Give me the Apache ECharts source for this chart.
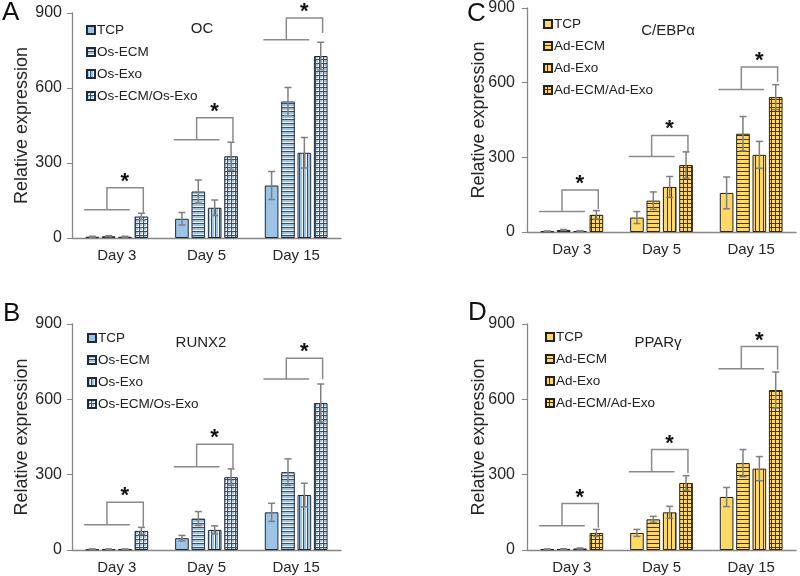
<!DOCTYPE html>
<html><head><meta charset="utf-8">
<script src="https://cdn.jsdelivr.net/npm/echarts@6/dist/echarts.min.js"></script>
<style>
body{margin:0;background:#fff;}
.p{position:absolute;width:400px;height:288px;}
</style>
</head><body>
<div id="pA" class="p" style="left:0;top:0"></div>
<div id="pB" class="p" style="left:0;top:288px"></div>
<div id="pC" class="p" style="left:400px;top:0"></div>
<div id="pD" class="p" style="left:400px;top:288px"></div>
<script>
// ---------- data ----------
const categories = ['Day 3', 'Day 5', 'Day 15'];
const yTicks = [0, 300, 600, 900];
const osNames = ['TCP', 'Os-ECM', 'Os-Exo', 'Os-ECM/Os-Exo'];
const adNames = ['TCP', 'Ad-ECM', 'Ad-Exo', 'Ad-ECM/Ad-Exo'];

// A: OC
const ocTCP = [5, 77, 210];      const ocTCPErr = [2, 25, 56];
const ocECM = [7, 186, 546];     const ocECMErr = [2, 46, 56];
const ocExo = [5, 121, 341];     const ocExoErr = [2, 31, 61];
const ocCombo = [86, 327, 728];  const ocComboErr = [13, 56, 55];
const ocBracketLow = [113, 393, 793];
const ocBracketHigh = [201, 481, 880];
const ocBracketEnd = [100, 385, 820];

// B: RUNX2
const runxTCP = [3, 47, 150];     const runxTCPErr = [1, 11, 36];
const runxECM = [3, 125, 310];    const runxECMErr = [1, 28, 53];
const runxExo = [3, 80, 219];     const runxExoErr = [1, 16, 47];
const runxCombo = [76, 290, 585]; const runxComboErr = [14, 33, 76];
const runxBracketLow = [101, 332, 681];
const runxBracketHigh = [190, 421, 764];
const runxBracketEnd = [93, 326, 680];

// C: C/EBPa
const cebpTCP = [3, 58, 157];     const cebpTCPErr = [1, 24, 64];
const cebpECM = [8, 126, 395];    const cebpECMErr = [2, 35, 69];
const cebpExo = [4, 181, 310];    const cebpExoErr = [1, 42, 54];
const cebpCombo = [69, 269, 542]; const cebpComboErr = [17, 53, 50];
const cebpBracketLow = [82, 303, 573];
const cebpBracketHigh = [169, 388, 663];
const cebpBracketEnd = [92, 318, 604];

// D: PPARg
const pparTCP = [3, 68, 211];     const pparTCPErr = [1, 14, 38];
const pparECM = [4, 122, 346];    const pparECMErr = [1, 12, 54];
const pparExo = [6, 150, 324];    const pparExoErr = [2, 24, 48];
const pparCombo = [68, 267, 637]; const pparComboErr = [14, 29, 72];
const pparBracketLow = [97, 312, 722];
const pparBracketHigh = [185, 400, 810];
const pparBracketEnd = [90, 306, 718];

// ---------- style ----------
const FONT = "'Liberation Sans', Arial, sans-serif";
const CAT_GAP = 0.30, BAR_GAP = 0.20;
const AXIS_COLOR = '#868686';
const ERR_COLOR = '#7f7f7f';

function pat(bg, fg, kind, hl) {
  if (kind === 's') return bg;
  const c = document.createElement('canvas');
  c.width = 4; c.height = 4;
  const g = c.getContext('2d');
  g.fillStyle = bg; g.fillRect(0, 0, 4, 4);
  if (hl) {
    g.fillStyle = hl;
    if (kind === 'h' || kind === 'g') g.fillRect(0, 2, 4, 1);
    if (kind === 'v' || kind === 'g') g.fillRect(2, 0, 1, 4);
  }
  g.fillStyle = fg;
  if (kind === 'h' || kind === 'g') g.fillRect(0, 3, 4, 1);
  if (kind === 'v' || kind === 'g') g.fillRect(3, 0, 1, 4);
  return { image: c, repeat: 'repeat' };
}
const KINDS = ['s', 'h', 'v', 'g'];
const BLUE = { bg: '#9DC3E6', fg: '#2F4F75', hl: '#EEF5FC', border: '#1d2a3a' };
const YEL = { bg: '#FFD966', fg: '#3a3322', hl: null, border: '#222222' };

function offsetFor(i, band) {
  const gw = band * (1 - CAT_GAP);
  const bw = gw / (4 + 3 * BAR_GAP);
  return -gw / 2 + bw / 2 + i * bw * (1 + BAR_GAP);
}

function errSeries(i, vals, errs) {
  return {
    type: 'custom', z: 5, clip: false, silent: true,
    data: vals.map((v, k) => [k, v, errs[k]]),
    renderItem: function (params, api) {
      const c = api.value(0), v = api.value(1), e = api.value(2);
      const band = api.size([1, 0])[0];
      const x = api.coord([c, v])[0] + offsetFor(i, band);
      const yt = api.coord([c, v + e])[1];
      const yb = api.coord([c, Math.max(v - e, 0)])[1];
      const st = { stroke: ERR_COLOR, lineWidth: 1.5 };
      const cap = 3.5;
      return { type: 'group', children: [
        { type: 'line', shape: { x1: x, y1: yt, x2: x, y2: yb }, style: st },
        { type: 'line', shape: { x1: x - cap, y1: yt, x2: x + cap, y2: yt }, style: st },
        { type: 'line', shape: { x1: x - cap, y1: yb, x2: x + cap, y2: yb }, style: st }
      ]};
    }
  };
}

function bracketSeries(low, high, end) {
  return {
    type: 'custom', z: 6, clip: false, silent: true,
    data: low.map((v, k) => [k, v, high[k], end[k]]),
    renderItem: function (params, api) {
      const c = api.value(0);
      const band = api.size([1, 0])[0];
      const cx = api.coord([c, 0])[0];
      const yl = api.coord([c, api.value(1)])[1];
      const yh = api.coord([c, api.value(2)])[1];
      const ye = api.coord([c, api.value(3)])[1];
      const xL = cx - 0.365 * band, xR0 = cx + 0.145 * band;
      const xM = cx - 0.11 * band, xR = cx + 0.295 * band;
      const st = { stroke: '#8a8a8a', lineWidth: 1.5 };
      return { type: 'group', children: [
        { type: 'line', shape: { x1: xL, y1: yl, x2: xR0, y2: yl }, style: st },
        { type: 'polyline', shape: { points: [[xM, yl], [xM, yh], [xR, yh], [xR, ye]] }, style: Object.assign({ fill: null }, st) },
        { type: 'text', x: cx + 0.09 * band, y: yh - 6,
          style: { text: '*', font: 'bold 22px ' + FONT, fill: '#111', align: 'center', verticalAlign: 'middle' } }
      ]};
    }
  };
}

function makePanel(el, cfg) {
  const chart = echarts.init(document.getElementById(el), null, { renderer: 'canvas' });
  const pal = cfg.pal;
  const series = [];
  cfg.vals.forEach((vals, i) => {
    series.push({
      type: 'bar', name: cfg.names[i], data: vals,
      barGap: (BAR_GAP * 100) + '%', barCategoryGap: (CAT_GAP * 100) + '%',
      itemStyle: { color: pat(pal.bg, pal.fg, KINDS[i], pal.hl), borderColor: pal.border, borderWidth: 1 },
      emphasis: { disabled: true }
    });
  });
  cfg.vals.forEach((vals, i) => series.push(errSeries(i, vals, cfg.errs[i])));
  series.push(bracketSeries(cfg.low, cfg.high, cfg.end));

  chart.setOption({
    animation: false,
    backgroundColor: '#fff',
    textStyle: { fontFamily: FONT },
    grid: cfg.grid,
    legend: {
      orient: 'vertical', left: cfg.legend[0], top: cfg.legend[1], padding: 0,
      itemWidth: 8, itemHeight: 8, itemGap: 8, icon: 'rect',
      data: cfg.names, selectedMode: false,
      textStyle: { fontSize: 13.5, color: '#222', lineHeight: 14, fontFamily: FONT, padding: [0, 0, 0, -3] }
    },
    xAxis: {
      type: 'category', data: categories,
      axisLine: { lineStyle: { color: AXIS_COLOR, width: 1.3 } },
      axisTick: { show: false },
      axisLabel: { fontSize: 15, color: '#262626', margin: 10, fontFamily: FONT }
    },
    yAxis: {
      type: 'value', min: yTicks[0], max: yTicks[yTicks.length - 1], interval: yTicks[1] - yTicks[0],
      name: 'Relative expression', nameLocation: 'middle', nameGap: cfg.nameGap,
      nameMoveOverlap: false,
      nameTextStyle: { fontSize: 18, color: '#262626', fontFamily: FONT },
      axisLine: { show: true, lineStyle: { color: AXIS_COLOR, width: 1.3 } },
      axisTick: { show: true, length: 5, lineStyle: { color: AXIS_COLOR } },
      splitLine: { show: false },
      axisLabel: { fontSize: 16, color: '#262626', margin: cfg.labelMargin, fontFamily: FONT }
    },
    graphic: [
      { type: 'text', left: cfg.letterPos[0], top: cfg.letterPos[1],
        style: { text: cfg.letter, font: '26px ' + FONT, fill: '#111' } },
      { type: 'text', x: cfg.titlePos[0], y: cfg.titlePos[1],
        style: { text: cfg.title, font: '15px ' + FONT, fill: '#222', align: 'center', verticalAlign: 'middle' } }
    ],
    series: series
  });
}

makePanel('pA', {
  letter: 'A', letterPos: [2, 0], title: 'OC', titlePos: [202, 29],
  grid: { left: 72, top: 13, width: 269, height: 225 }, nameGap: 41, labelMargin: 10, legend: [86, 23], pal: BLUE, names: osNames,
  vals: [ocTCP, ocECM, ocExo, ocCombo], errs: [ocTCPErr, ocECMErr, ocExoErr, ocComboErr],
  low: ocBracketLow, high: ocBracketHigh, end: ocBracketEnd
});
makePanel('pB', {
  letter: 'B', letterPos: [3, 13], title: 'RUNX2', titlePos: [201, 55],
  grid: { left: 72, top: 36, width: 269, height: 226 }, nameGap: 41, labelMargin: 10, legend: [87, 43], pal: BLUE, names: osNames,
  vals: [runxTCP, runxECM, runxExo, runxCombo], errs: [runxTCPErr, runxECMErr, runxExoErr, runxComboErr],
  low: runxBracketLow, high: runxBracketHigh, end: runxBracketEnd
});
makePanel('pC', {
  letter: 'C', letterPos: [67, 1], title: 'C/EBPα', titlePos: [268, 31],
  grid: { left: 127, top: 6, width: 269, height: 226 }, nameGap: 39, labelMargin: 12, legend: [143, 17], pal: YEL, names: adNames,
  vals: [cebpTCP, cebpECM, cebpExo, cebpCombo], errs: [cebpTCPErr, cebpECMErr, cebpExoErr, cebpComboErr],
  low: cebpBracketLow, high: cebpBracketHigh, end: cebpBracketEnd
});
makePanel('pD', {
  letter: 'D', letterPos: [68, 12], title: 'PPARγ', titlePos: [258, 55],
  grid: { left: 127, top: 36, width: 269, height: 226 }, nameGap: 39, labelMargin: 12, legend: [145, 42], pal: YEL, names: adNames,
  vals: [pparTCP, pparECM, pparExo, pparCombo], errs: [pparTCPErr, pparECMErr, pparExoErr, pparComboErr],
  low: pparBracketLow, high: pparBracketHigh, end: pparBracketEnd
});
</script>
</body></html>
